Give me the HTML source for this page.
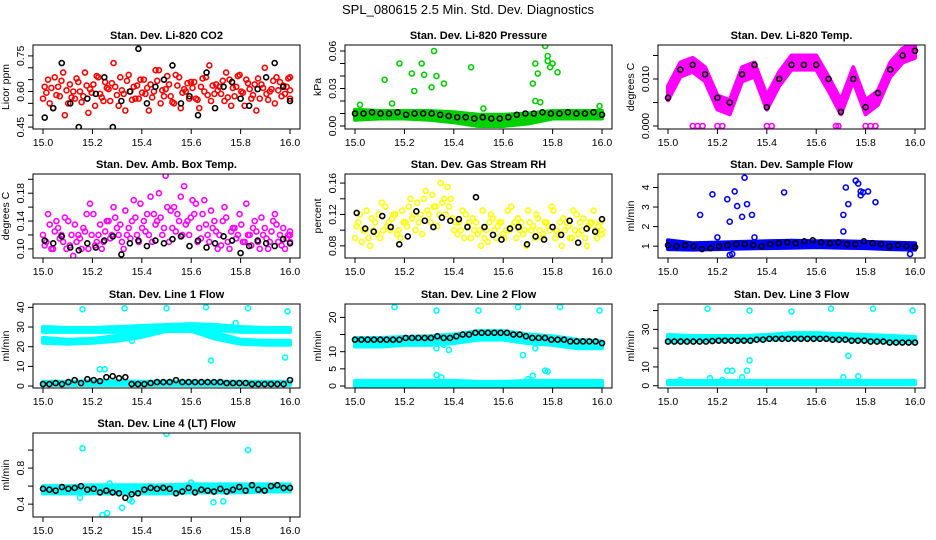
<!DOCTYPE html>
<html><head><meta charset="utf-8"><style>
html,body{margin:0;padding:0;background:#fff;}
svg{display:block;font-family:"Liberation Sans",Arial,sans-serif;}
</style></head><body>
<svg id="chart" width="936" height="540" viewBox="0 0 936 540">
<text x="468" y="14" text-anchor="middle" font-size="13">SPL_080615  2.5 Min. Std. Dev. Diagnostics</text>
</svg>
<script>
// ---- data arrays ----
const xTicks=[15.0,15.2,15.4,15.6,15.8,16.0];
const xTickLabels=["15.0","15.2","15.4","15.6","15.8","16.0"];

const co2Red1=[0.57,0.65,0.53,0.62,0.68,0.55,0.60,0.64,0.58,0.51,0.63,0.66,0.56,0.61,0.72,0.54,0.59,0.67,0.62,0.57,0.65,0.52,0.60,0.69,0.58,0.63,0.55,0.66,0.61,0.57,0.64,0.53,0.60,0.71,0.59,0.62,0.56,0.65,0.58,0.67,0.54,0.61,0.63,0.57,0.70,0.60,0.55,0.64,0.59,0.66];
const co2Red2=[0.62,0.55,0.66,0.58,0.50,0.63,0.57,0.60,0.68,0.61,0.54,0.59,0.64,0.56,0.62,0.66,0.52,0.60,0.57,0.65,0.59,0.63,0.69,0.55,0.61,0.58,0.67,0.53,0.60,0.64,0.57,0.62,0.66,0.56,0.63,0.59,0.68,0.54,0.62,0.60,0.65,0.57,0.52,0.63,0.59,0.61,0.66,0.58,0.62,0.57];
const co2Red3=[0.595,0.615,0.585,0.645,0.605,0.575,0.655,0.555,0.625,0.595,0.665,0.575,0.615,0.635,0.585,0.605,0.645,0.565,0.625,0.595,0.615,0.575,0.645,0.605,0.665,0.555,0.625,0.595,0.635,0.615,0.565,0.655,0.585,0.625,0.605,0.645,0.575,0.615,0.665,0.595,0.635,0.585,0.655,0.615,0.565,0.645,0.605,0.625,0.655,0.605];
const co2Black=[0.49,0.53,0.72,0.55,0.45,0.57,0.59,0.66,0.45,0.56,0.60,0.78,0.55,0.62,0.65,0.71,0.55,0.58,0.50,0.68,0.53,0.62,0.64,0.57,0.54,0.61,0.66,0.72,0.62,0.56];

const presLo=[0.005,0.006,0.006,0.005,0.003,0.000,0.000,0.002,0.006,0.006,0.006];
const presHi=[0.013,0.012,0.012,0.012,0.011,0.009,0.009,0.010,0.012,0.012,0.012];
const presBlack=[0.010,0.010,0.011,0.010,0.010,0.011,0.009,0.010,0.010,0.010,0.009,0.008,0.007,0.007,0.006,0.007,0.006,0.006,0.007,0.009,0.010,0.010,0.011,0.010,0.010,0.011,0.010,0.010,0.011,0.009];
const presOutX=[15.12,15.18,15.23,15.24,15.27,15.28,15.31,15.32,15.33,15.36,15.47,15.15,15.02,15.72,15.73,15.74,15.77,15.78,15.78,15.79,15.80,15.82,15.73,15.75,15.99,15.52];
const presOutY=[0.037,0.050,0.042,0.028,0.050,0.041,0.031,0.060,0.040,0.034,0.047,0.018,0.017,0.034,0.050,0.042,0.064,0.056,0.052,0.047,0.050,0.043,0.020,0.019,0.016,0.014];

const tempLo=[0.0055,0.0105,0.0115,0.0095,0.0035,0.0025,0.0095,0.0105,0.0035,0.0085,0.0120,0.0120,0.0120,0.0075,0.0025,0.0095,0.0025,0.0045,0.0105,0.0135,0.0145];
const tempHi=[0.0085,0.0135,0.0145,0.0125,0.0065,0.0055,0.0125,0.0135,0.0065,0.0115,0.0150,0.0150,0.0150,0.0105,0.0055,0.0125,0.0055,0.0075,0.0135,0.0165,0.0175];
const tempBlack=[0.006,0.012,0.013,0.011,0.006,0.005,0.011,0.013,0.004,0.010,0.013,0.013,0.013,0.010,0.003,0.010,0.004,0.007,0.012,0.015,0.016];
const tempOutX=[15.10,15.12,15.14,15.20,15.22,15.40,15.42,15.68,15.69,15.80,15.82,15.84];
const tempOutY=[0,0,0,0,0,0,0,0,0,0,0,0];

const ambMag1=[0.12,0.15,0.10,0.13,0.11,0.14,0.09,0.12,0.13,0.10,0.15,0.12,0.11,0.14,0.16,0.12,0.10,0.13,0.17,0.11,0.14,0.12,0.15,0.18,0.13,0.11,0.16,0.14,0.19,0.12,0.15,0.13,0.17,0.11,0.14,0.12,0.16,0.10,0.13,0.15,0.11,0.12,0.14,0.10,0.13,0.11,0.15,0.12,0.10,0.12];
const ambMag2=[0.105,0.135,0.125,0.115,0.145,0.105,0.135,0.115,0.125,0.165,0.105,0.135,0.125,0.115,0.145,0.135,0.155,0.115,0.145,0.165,0.125,0.175,0.135,0.145,0.205,0.155,0.125,0.175,0.135,0.145,0.165,0.115,0.135,0.155,0.125,0.105,0.145,0.125,0.115,0.135,0.165,0.105,0.125,0.145,0.115,0.125,0.135,0.105,0.115,0.125];
const ambMag3=[0.11,0.10,0.14,0.12,0.10,0.12,0.11,0.10,0.15,0.12,0.11,0.10,0.14,0.12,0.13,0.11,0.12,0.14,0.12,0.13,0.15,0.11,0.14,0.12,0.16,0.13,0.15,0.12,0.14,0.17,0.11,0.15,0.12,0.13,0.10,0.14,0.11,0.13,0.12,0.11,0.12,0.13,0.11,0.12,0.10,0.14,0.11,0.13,0.12,0.11];
const ambBlack=[0.112,0.108,0.118,0.102,0.098,0.108,0.102,0.112,0.118,0.092,0.108,0.112,0.104,0.112,0.108,0.114,0.118,0.104,0.112,0.102,0.108,0.118,0.112,0.094,0.104,0.112,0.108,0.104,0.114,0.108];

const rhYel1=[0.09,0.12,0.10,0.08,0.11,0.09,0.13,0.10,0.12,0.09,0.11,0.14,0.10,0.12,0.15,0.11,0.13,0.16,0.12,0.14,0.11,0.10,0.12,0.09,0.11,0.08,0.10,0.12,0.09,0.11,0.10,0.13,0.09,0.11,0.08,0.10,0.12,0.09,0.11,0.13,0.10,0.08,0.11,0.09,0.12,0.10,0.08,0.11,0.09,0.10];
const rhYel2=[0.105,0.085,0.125,0.115,0.095,0.135,0.105,0.115,0.095,0.125,0.105,0.115,0.135,0.095,0.125,0.145,0.105,0.135,0.155,0.115,0.095,0.125,0.105,0.115,0.095,0.125,0.085,0.115,0.105,0.095,0.125,0.105,0.115,0.095,0.125,0.105,0.115,0.095,0.105,0.125,0.095,0.115,0.105,0.125,0.095,0.115,0.105,0.125,0.105,0.095];
const rhYel3=[0.11,0.10,0.09,0.10,0.12,0.10,0.11,0.12,0.10,0.11,0.13,0.12,0.11,0.14,0.12,0.13,0.12,0.14,0.13,0.10,0.11,0.09,0.11,0.10,0.10,0.09,0.11,0.10,0.11,0.09,0.10,0.11,0.10,0.10,0.11,0.09,0.10,0.11,0.10,0.09,0.11,0.10,0.09,0.10,0.11,0.09,0.11,0.10,0.11,0.10];
const rhBlack=[0.122,0.102,0.098,0.118,0.104,0.082,0.092,0.124,0.112,0.104,0.116,0.112,0.114,0.104,0.142,0.104,0.094,0.088,0.102,0.104,0.082,0.092,0.088,0.104,0.094,0.112,0.084,0.102,0.098,0.114];

const flowLo=[0.85,0.82,0.85,0.88,0.90,0.92,0.95,0.92,0.90,0.85,0.82];
const flowHi=[1.30,1.15,1.18,1.22,1.25,1.28,1.25,1.25,1.22,1.18,1.15];
const flowBlack=[1.05,1.0,1.05,1.0,0.85,0.9,1.0,1.05,1.1,1.1,1.05,1.0,1.1,1.15,1.2,1.15,1.25,1.3,1.2,1.15,1.2,1.1,1.1,1.25,1.15,1.1,1.0,1.05,1.0,0.95];
const flowOutX=[15.13,15.18,15.20,15.24,15.25,15.25,15.26,15.27,15.28,15.30,15.31,15.32,15.34,15.35,15.47,15.71,15.72,15.71,15.73,15.76,15.77,15.78,15.78,15.79,15.81,15.84,15.98];
const flowOutY=[2.6,3.65,1.45,3.4,0.55,2.25,0.6,3.8,3.05,2.5,4.5,3.15,2.6,1.45,3.75,1.75,4.0,2.6,3.15,4.35,4.2,3.8,3.6,3.75,3.8,3.25,0.6];

const l1UpLo=[27.5,27.5,27.5,27.5,28,28.5,29,28.5,27.5,27.5,27.5];
const l1UpHi=[30,29.5,29.5,30,30.5,31,31.5,31,30,29.5,29.5];
const l1MidLo=[22,21.5,22,23,25,28,28,24,21.5,21,21];
const l1MidHi=[24.5,23.5,24,25.5,28,30.5,30.5,27,23.5,23,23];
const l1LowLo=[0.6,0.6,0.6,0.6,0.6,0.6,0.6,0.6,0.6,0.6,0.6];
const l1LowHi=[2.2,2.2,2.4,2.4,2.2,2.2,2.2,2.2,2.2,2.2,2.2];
const l1Black=[1,1,1.5,1,2,3,1.5,3.5,3,2.5,4.5,5,4,4.5,1,1,1,1.5,2,2,2,3,2,2,2,2,2,2,2,1.5,1.5,1.5,1.5,1,1,1,1,1,1,3];
const l1OutX=[15.16,15.33,15.50,15.66,15.83,15.99,15.23,15.25,15.68,15.98,15.36,15.40,15.78];
const l1OutY=[39,39.5,39.5,40,39.5,38,8.5,8.5,13,14.5,23,26,32];

const l2Lo=[11.5,11.5,12,12,12.5,13.5,13.5,12.5,12,11,11];
const l2Hi=[14,14,14.3,14.5,15,16,16,15,14.5,13.5,13];
const l2LowLo=[0,0,0,0,0,0,0,0,0,0,0];
const l2LowHi=[1.5,1.5,1.5,1.5,1.5,1.2,1.2,1.5,1.5,1.5,1.5];
const l2Black=[13.5,13.5,13.5,13.5,13.5,13.5,13.5,13.5,14,14,14,14,14,14.5,14,14,14.5,15,15,15.5,15.5,15.5,15.5,15.5,15.5,15,15,14.5,14,14,14,13.5,13.5,13.5,13,13,13,13,13,12.5];
const l2OutX=[15.16,15.33,15.50,15.66,15.83,15.99,15.33,15.36,15.38,15.68,15.73,15.33,15.35,15.72,15.77,15.78,15.70];
const l2OutY=[23,22,22,23,23,22,11,12,10.5,9,11,3.2,2.5,3,4.5,4.2,2];

const l3Lo=[23.5,24,24,24,24.5,25,25,24.5,24,23.5,23.5];
const l3Hi=[27,26.5,26.5,26.5,27,28,28,27.5,27,26.5,26];
const l3LowLo=[0.8,0.8,0.8,0.8,0.8,0.8,0.8,0.8,0.8,0.8,0.8];
const l3LowHi=[2.5,2.5,2.5,2.5,2.5,2.5,2.5,2.5,2.5,2.5,2.5];
const l3Black=[23.5,23.5,23.5,23.5,23.5,23.5,23.5,23.8,24,24,24,24,24,24,24.5,24.5,25,25,25,25,25,25,25,25,25,25,24.5,24.5,24.5,24,24,24,23.5,23.5,23.5,23,23,23,23,23];
const l3OutX=[15.16,15.33,15.50,15.66,15.83,15.99,15.33,15.73,15.32,15.24,15.26,15.30,15.17,15.71,15.77,15.22,15.05];
const l3OutY=[41,40,39.5,41,41,40,13.5,16,8,8,8,4.5,4,4.5,5,3,3];

const l4Lo=[0.52,0.52,0.52,0.52,0.52,0.52,0.53,0.53,0.53,0.54,0.54];
const l4Hi=[0.60,0.60,0.61,0.61,0.61,0.61,0.62,0.62,0.62,0.62,0.62];
const l4Black=[0.57,0.56,0.55,0.59,0.57,0.58,0.60,0.56,0.57,0.53,0.55,0.53,0.52,0.47,0.51,0.52,0.56,0.58,0.57,0.58,0.57,0.52,0.54,0.58,0.53,0.56,0.55,0.54,0.57,0.54,0.56,0.59,0.55,0.61,0.56,0.55,0.60,0.61,0.58,0.58];
const l4OutX=[15.16,15.50,15.83,15.24,15.26,15.32,15.35,15.36,15.15,15.69,15.73,15.60,15.27];
const l4OutY=[1.02,1.18,1.0,0.28,0.30,0.36,0.45,0.43,0.47,0.42,0.43,0.64,0.63];

// ---- panel configuration ----
const RED="#ff0000",GRN="#00d000",MAG="#ff00ff",YEL="#ffff00",BLU="#0000ff",CYN="#00ffff",BLK="#000000";
const panels=[
 {col:0,row:0,name:"co2",title:"Stan. Dev. Li-820 CO2",ylab:"Licor ppm",ylim:[0.442,0.796],ticks:[0.45,0.5,0.55,0.6,0.65,0.7,0.75],labels:{"0.45":"0.45","0.6":"0.60","0.75":"0.75"},
  series:[{t:"p",v:co2Red1,c:RED,sh:0},{t:"p",v:co2Red2,c:RED,sh:0.33},{t:"p",v:co2Red3,c:RED,sh:0.66},{t:"p",v:co2Black,c:BLK,sh:0.2}]},
 {col:1,row:0,name:"pressure",title:"Stan. Dev. Li-820 Pressure",ylab:"kPa",ylim:[-0.0024,0.0648],ticks:[0,0.01,0.02,0.03,0.04,0.05,0.06],labels:{"0":"0.00","0.03":"0.03","0.06":"0.06"},
  series:[{t:"b",lo:presLo,hi:presHi,c:GRN},{t:"xy",x:presOutX,y:presOutY,c:GRN},{t:"p",v:presBlack,c:BLK,sh:0}]},
 {col:2,row:0,name:"temp",title:"Stan. Dev. Li-820 Temp.",ylab:"degrees C",ylim:[-0.00064,0.01723],ticks:[0,0.005,0.01,0.015],labels:{"0":"0.000","0.01":"0.010"},
  series:[{t:"b",lo:tempLo,hi:tempHi,c:MAG},{t:"xy",x:tempOutX,y:tempOutY,c:MAG},{t:"p",v:tempBlack,c:BLK,sh:0}]},
 {col:0,row:1,name:"amb-box-temp",title:"Stan. Dev. Amb. Box Temp.",ylab:"degrees C",ylim:[0.0869,0.2076],ticks:[0.1,0.12,0.14,0.16,0.18,0.2],labels:{"0.1":"0.10","0.14":"0.14","0.18":"0.18"},
  series:[{t:"p",v:ambMag1,c:MAG,sh:0},{t:"p",v:ambMag2,c:MAG,sh:0.33},{t:"p",v:ambMag3,c:MAG,sh:0.66},{t:"p",v:ambBlack,c:BLK,sh:0.2}]},
 {col:1,row:1,name:"gas-rh",title:"Stan. Dev. Gas Stream RH",ylab:"percent",ylim:[0.0645,0.1716],ticks:[0.08,0.1,0.12,0.14,0.16],labels:{"0.08":"0.08","0.12":"0.12","0.16":"0.16"},
  series:[{t:"p",v:rhYel1,c:YEL,sh:0},{t:"p",v:rhYel2,c:YEL,sh:0.33},{t:"p",v:rhYel3,c:YEL,sh:0.66},{t:"p",v:rhBlack,c:BLK,sh:0.2}]},
 {col:2,row:1,name:"sample-flow",title:"Stan. Dev. Sample Flow",ylab:"ml/min",ylim:[0.395,4.69],ticks:[1,2,3,4],labels:{"1":"1","2":"2","3":"3","4":"4"},
  series:[{t:"b",lo:flowLo,hi:flowHi,c:BLU},{t:"xy",x:flowOutX,y:flowOutY,c:BLU},{t:"p",v:flowBlack,c:BLK,sh:0}]},
 {col:0,row:2,name:"line1",title:"Stan. Dev. Line 1 Flow",ylab:"ml/min",ylim:[-1.0,41.7],ticks:[0,10,20,30,40],labels:{"0":"0","10":"10","20":"20","30":"30","40":"40"},
  series:[{t:"b",lo:l1UpLo,hi:l1UpHi,c:CYN},{t:"b",lo:l1MidLo,hi:l1MidHi,c:CYN},{t:"b",lo:l1LowLo,hi:l1LowHi,c:CYN},{t:"xy",x:l1OutX,y:l1OutY,c:CYN},{t:"p",v:l1Black,c:BLK,sh:0}]},
 {col:1,row:2,name:"line2",title:"Stan. Dev. Line 2 Flow",ylab:"ml/min",ylim:[-0.58,23.9],ticks:[0,5,10,15,20],labels:{"0":"0","5":"5","10":"10","20":"20"},
  series:[{t:"b",lo:l2Lo,hi:l2Hi,c:CYN},{t:"b",lo:l2LowLo,hi:l2LowHi,c:CYN},{t:"xy",x:l2OutX,y:l2OutY,c:CYN},{t:"p",v:l2Black,c:BLK,sh:0}]},
 {col:2,row:2,name:"line3",title:"Stan. Dev. Line 3 Flow",ylab:"ml/min",ylim:[-1.2,43.5],ticks:[0,10,20,30,40],labels:{"0":"0","10":"10","30":"30"},
  series:[{t:"b",lo:l3Lo,hi:l3Hi,c:CYN},{t:"b",lo:l3LowLo,hi:l3LowHi,c:CYN},{t:"xy",x:l3OutX,y:l3OutY,c:CYN},{t:"p",v:l3Black,c:BLK,sh:0}]},
 {col:0,row:3,name:"line4",title:"Stan. Dev. Line 4 (LT) Flow",ylab:"ml/min",ylim:[0.257,1.19],ticks:[0.4,0.6,0.8,1.0],labels:{"0.4":"0.4","0.8":"0.8"},
  series:[{t:"b",lo:l4Lo,hi:l4Hi,c:CYN},{t:"xy",x:l4OutX,y:l4OutY,c:CYN},{t:"p",v:l4Black,c:BLK,sh:0}]}
];

const NS="http://www.w3.org/2000/svg";
const svg=document.getElementById("chart");
function mk(tag,attrs,parent){const e=document.createElementNS(NS,tag);for(const k in attrs)e.setAttribute(k,attrs[k]);parent.appendChild(e);return e;}
const colLeft=[33,345,658],rowTop=[45,174,304,433],W=267,H=84;

panels.forEach(p=>{
  const L=colLeft[p.col],T=rowTop[p.row],B=T+H;
  const g=mk("g",{},svg);
  
  
  const xs=v=>L+10+(v-15)*247;
  const ys=v=>B-(v-p.ylim[0])/(p.ylim[1]-p.ylim[0])*H;
  const xsIdx=(i,n,sh)=>xs(15+Math.min(n-1,i+(sh||0))/(n-1));
  const clip="clip-"+p.name;
  const cp=mk("clipPath",{id:clip},g);mk("rect",{x:L,y:T,width:W,height:H},cp);
  const plot=mk("g",{"clip-path":"url(#"+clip+")"},g);
  
  
  p.series.forEach((s,si)=>{
    const sg=mk("g",{},plot);
    
    
    if(s.t==="b"){
      const n=s.lo.length;let pts=[];
      for(let i=0;i<n;i++)pts.push(xsIdx(i,n)+","+ys(s.hi[i]));
      for(let i=n-1;i>=0;i--)pts.push(xsIdx(i,n)+","+ys(s.lo[i]));
      const poly=mk("polygon",{points:pts.join(" "),fill:s.c,stroke:s.c,"stroke-width":4,"stroke-linejoin":"round"},sg);
      
      
    } else {
      const n=s.t==="p"?s.v.length:s.x.length;
      for(let i=0;i<n;i++){
        const cx=s.t==="p"?xsIdx(i,n,s.sh):xs(s.x[i]);
        const cy=s.t==="p"?ys(s.v[i]):ys(s.y[i]);
        const c=mk("circle",{cx:cx,cy:cy,r:2.5,fill:"none",stroke:s.c,"stroke-width":1.6},sg);
        
        
      }
    }
  });
  const box=mk("rect",{x:L,y:T,width:W,height:H,fill:"none",stroke:"#000","stroke-width":1},g);
  
  
  const xa=mk("g",{},g);
  
  
  mk("line",{x1:xs(15),x2:xs(16),y1:B,y2:B,stroke:"#000"},xa);
  xTicks.forEach((v,i)=>{
    mk("line",{x1:xs(v),x2:xs(v),y1:B,y2:B+5,stroke:"#000"},xa);
    const t=mk("text",{x:xs(v),y:B+17,"text-anchor":"middle","font-size":10.5},xa);
    t.textContent=xTickLabels[i];
    
    
  });
  const ya=mk("g",{},g);
  
  
  const tk=p.ticks;
  mk("line",{x1:L,x2:L,y1:ys(tk[0]),y2:ys(tk[tk.length-1]),stroke:"#000"},ya);
  tk.forEach(v=>{
    const y=ys(v);
    mk("line",{x1:L-5,x2:L,y1:y,y2:y,stroke:"#000"},ya);
    const lab=p.labels[String(v)];
    if(lab!==undefined){
      const t=mk("text",{x:L-9,y:y,"text-anchor":"middle","font-size":10.5,transform:"rotate(-90 "+(L-9)+" "+y+")"},ya);
      t.textContent=lab;
      
      
    }
  });
  const yl=mk("text",{x:L-24,y:T+H/2,"text-anchor":"middle","font-size":10.5,transform:"rotate(-90 "+(L-24)+" "+(T+H/2)+")"},g);
  yl.textContent=p.ylab;
  
  
  const tt=mk("text",{x:L+W/2,y:T-6,"text-anchor":"middle","font-size":11,"font-weight":"bold"},g);
  tt.textContent=p.title;
  
  
});
</script>
</body></html>
